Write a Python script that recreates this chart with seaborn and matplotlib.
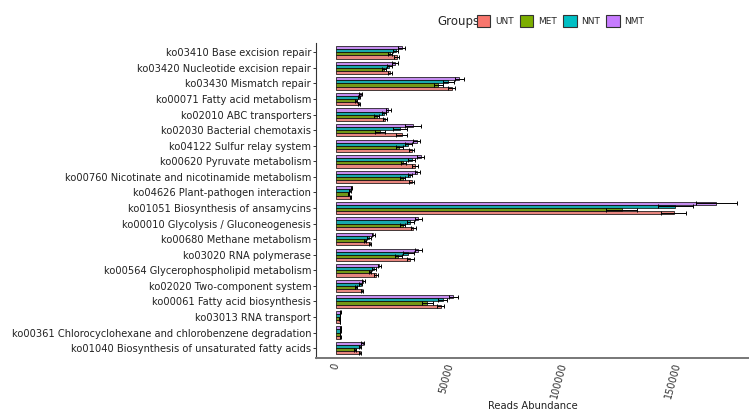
import pandas as pd
import matplotlib.pyplot as plt
import seaborn as sns
from matplotlib.patches import Patch

# Pathway labels, top to bottom
pathways = [
    "ko03410 Base excision repair",
    "ko03420 Nucleotide excision repair",
    "ko03430 Mismatch repair",
    "ko00071 Fatty acid metabolism",
    "ko02010 ABC transporters",
    "ko02030 Bacterial chemotaxis",
    "ko04122 Sulfur relay system",
    "ko00620 Pyruvate metabolism",
    "ko00760 Nicotinate and nicotinamide metabolism",
    "ko04626 Plant-pathogen interaction",
    "ko01051 Biosynthesis of ansamycins",
    "ko00010 Glycolysis / Gluconeogenesis",
    "ko00680 Methane metabolism",
    "ko03020 RNA polymerase",
    "ko00564 Glycerophospholipid metabolism",
    "ko02020 Two-component system",
    "ko00061 Fatty acid biosynthesis",
    "ko03013 RNA transport",
    "ko00361 Chlorocyclohexane and chlorobenzene degradation",
    "ko01040 Biosynthesis of unsaturated fatty acids",
]

groups = ["UNT", "MET", "NNT", "NMT"]
colors = {"UNT": "#F8766D", "MET": "#7CAE00", "NNT": "#00BFC4", "NMT": "#C77CFF"}

# Mean reads abundance per group
unt = [26600, 23700, 50700, 10200, 21500, 28800, 33200, 34600, 33200, 6400,
       148000, 33900, 14900, 32500, 17500, 11300, 45900, 1800, 1900, 10500]
met = [23700, 21100, 44900, 8800, 17800, 19300, 27800, 29500, 29200, 5400,
       125300, 29200, 12700, 27300, 14900, 8800, 40000, 1600, 1700, 8300]
nnt = [26200, 23400, 49300, 10100, 21100, 28100, 31700, 33200, 32500, 6100,
       148700, 32500, 14600, 31700, 16700, 10800, 46800, 1800, 1900, 10500]
nmt = [28800, 25900, 54100, 10800, 22900, 33900, 35400, 37100, 35700, 6900,
       166700, 36100, 16400, 36100, 19000, 12000, 51500, 1900, 2000, 11700]

# Standard deviations
unt_sd = [1200, 1000, 1500, 400, 1000, 2500, 1200, 1200, 1000, 300,
          5400, 1200, 600, 1500, 800, 500, 1500, 100, 100, 500]
met_sd = [1000, 800, 2000, 400, 1000, 2200, 1500, 1200, 1200, 300,
          6900, 1000, 600, 1500, 600, 600, 2500, 100, 100, 500]
nnt_sd = [1200, 1000, 2500, 400, 800, 3000, 1500, 1500, 1000, 300,
          7700, 1500, 800, 2500, 800, 600, 2000, 100, 100, 500]
nmt_sd = [1500, 1200, 2000, 500, 1000, 3500, 1500, 1500, 1200, 300,
          9000, 1500, 800, 1500, 800, 800, 2000, 100, 100, 600]

means = {"UNT": unt, "MET": met, "NNT": nnt, "NMT": nmt}
sds = {"UNT": unt_sd, "MET": met_sd, "NNT": nnt_sd, "NMT": nmt_sd}

df = pd.DataFrame([
    {"pathway": p, "group": g, "abundance": means[g][i]}
    for g in groups for i, p in enumerate(pathways)
])

sns.set_style("white")
plt.rcParams["font.family"] = ["DejaVu Sans"]

fig = plt.figure(figsize=(7.49, 4.12), dpi=100)
ax = fig.add_axes([316 / 749, 1 - 357.5 / 412, 433 / 749, (357.5 - 43) / 412])

draw_order = ["NMT", "NNT", "MET", "UNT"]  # top to bottom within each pathway
sns.barplot(data=df, y="pathway", x="abundance", hue="group", order=pathways,
            hue_order=draw_order, palette=colors, errorbar=None, width=0.8,
            edgecolor="black", linewidth=0.5, legend=False, ax=ax)

# Error bars at the bar ends
for container, g in zip(ax.containers, draw_order):
    ys = [b.get_y() + b.get_height() / 2 for b in container]
    xs = [b.get_width() for b in container]
    ax.errorbar(xs, ys, xerr=sds[g], fmt="none", ecolor="black",
                elinewidth=0.7, capsize=1.1, capthick=0.7)

ax.set_xlim(-8770, 181100)
ax.set_ylim(len(pathways) - 0.4, -0.6)
ax.set_xticks([0, 50000, 100000, 150000])
ax.set_xticklabels(["0", "50000", "100000", "150000"], rotation=75,
                   ha="right", va="center", rotation_mode="anchor")
ax.tick_params(axis="x", length=2.5, width=1, color="#555555", labelsize=7,
               labelcolor="#333333", pad=1.5)
ax.tick_params(axis="y", length=2.5, width=0.7, color="#333333", left=True,
               labelsize=7.1, labelcolor="#222222", pad=1)
ax.set_ylabel("")
ax.set_xlabel("Reads Abundance", fontsize=7.2, color="#222222", labelpad=1)
for s in ["top", "right"]:
    ax.spines[s].set_visible(False)
ax.spines["left"].set_color("#333333")
ax.spines["left"].set_linewidth(0.8)
ax.spines["bottom"].set_color("#777777")
ax.spines["bottom"].set_linewidth(1.4)

# Legend across the top
fig.text(437 / 749, 1 - 21 / 412, "Groups", fontsize=8.5, va="center", ha="left")
handles = [Patch(facecolor=colors[g], edgecolor="#333333", linewidth=0.8, label=g)
           for g in groups]
fig.legend(handles=handles, ncol=4, loc="center left",
           bbox_to_anchor=(476 / 749, 1 - 21 / 412), frameon=False, fontsize=6.5,
           handlelength=1.5, handleheight=1.5, handletextpad=0.5,
           columnspacing=0.7, borderpad=0.1, borderaxespad=0)

fig.savefig("out.png", dpi=100)
